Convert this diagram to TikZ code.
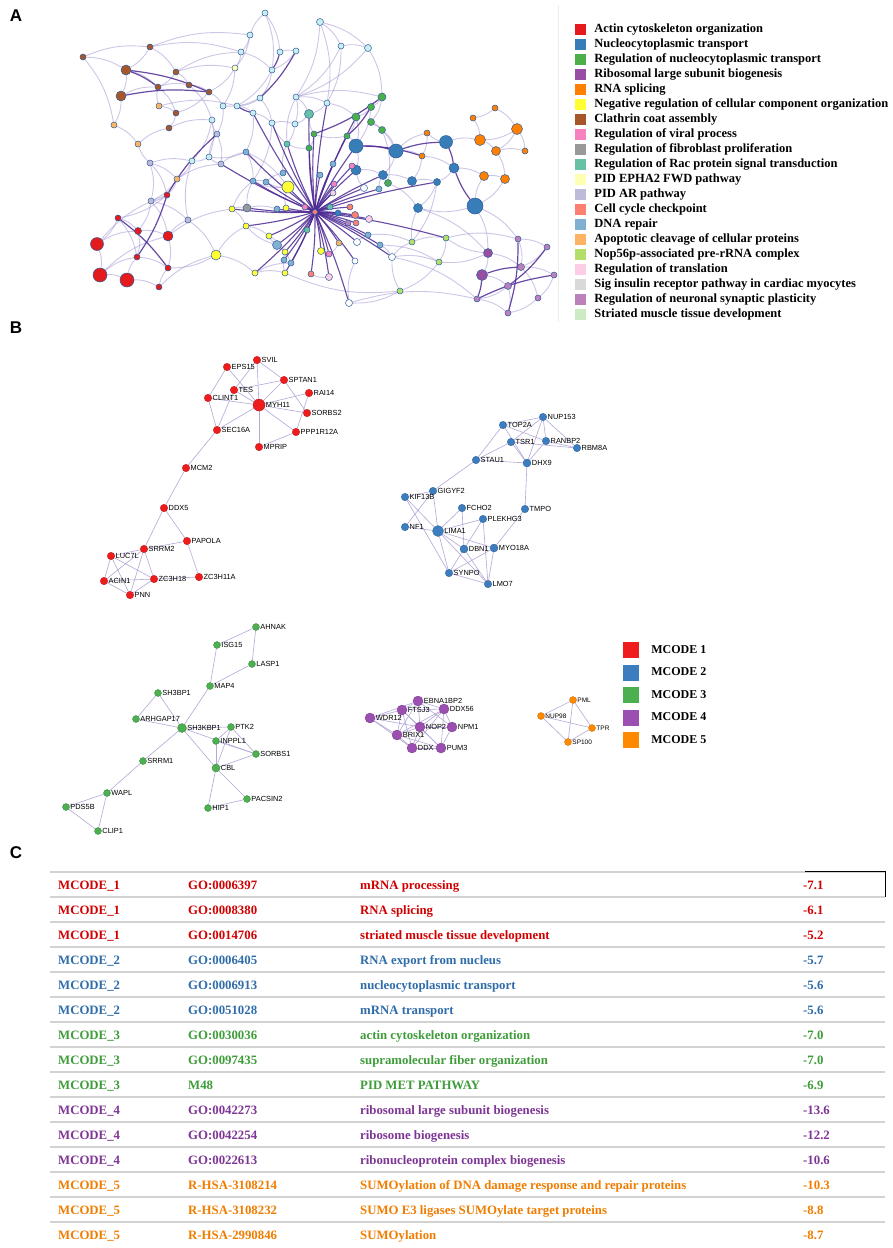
\documentclass[tikz,border=0pt]{standalone}
\usepackage{fontspec}
\setmainfont{Liberation Serif}
\setsansfont{Liberation Sans}
\usetikzlibrary{positioning}

\definecolor{cA}{HTML}{E41A1C}
\definecolor{cB}{HTML}{377EB8}
\definecolor{cC}{HTML}{4DAF4A}
\definecolor{cD}{HTML}{984EA3}
\definecolor{cE}{HTML}{FF7F00}
\definecolor{cF}{HTML}{FFFF33}
\definecolor{cG}{HTML}{A65628}
\definecolor{cH}{HTML}{F781BF}
\definecolor{cI}{HTML}{999999}
\definecolor{cJ}{HTML}{66C2A5}
\definecolor{cK}{HTML}{FFFFB3}
\definecolor{cL}{HTML}{BEBADA}
\definecolor{cM}{HTML}{FB8072}
\definecolor{cN}{HTML}{80B1D3}
\definecolor{cO}{HTML}{FDB462}
\definecolor{cP}{HTML}{B3DE69}
\definecolor{cQ}{HTML}{FCCDE5}
\definecolor{cR}{HTML}{D9D9D9}
\definecolor{cS}{HTML}{BC80BD}
\definecolor{cT}{HTML}{CCEBC5}
\definecolor{cW}{HTML}{C9EDF0}
\definecolor{rim}{HTML}{2E5C9A}
\definecolor{edgelav}{HTML}{9D8ECF}
\definecolor{edgedark}{HTML}{4E2A94}
\definecolor{ppiedge}{HTML}{B3A8D8}
\definecolor{mred}{HTML}{EE1C1C}
\definecolor{mblue}{HTML}{3C7DC0}
\definecolor{mgreen}{HTML}{4CAF50}
\definecolor{mpurple}{HTML}{9B4FB0}
\definecolor{morange}{HTML}{FF8A00}
\definecolor{tR}{HTML}{D10000}
\definecolor{tB}{HTML}{2F6DAA}
\definecolor{tG}{HTML}{3E9C3A}
\definecolor{tP}{HTML}{7E3595}
\definecolor{tO}{HTML}{F07D00}

\pgfdeclarelayer{bg}
\pgfdeclarelayer{edges}
\pgfsetlayers{bg,edges,main}

\tikzset{anode/.style =
   {circle,
    draw=rim,
    line width=0.5pt,
    inner sep=0pt,
    minimum size=6pt}}
\tikzset{lightedge/.style = {draw=edgelav, line width=0.9pt, opacity=0.5}}
\tikzset{darkedge/.style = {draw=edgedark, line width=1.2pt, opacity=0.85}}
\tikzset{legbox/.style =
   {rectangle,
    inner sep=0pt,
    minimum size=11pt}}
\tikzset{legtext/.style =
   {font=\bfseries\fontsize{12.5}{13}\selectfont,
    text height=8.5pt,
    text depth=2.5pt,
    inner sep=0pt}}
\tikzset{gnode/.style =
   {circle,
    fill=#1,
    draw=#1!75!black,
    line width=0.3pt,
    inner sep=0pt,
    minimum size=7.5pt}}
\tikzset{glabel/.style = {font=\sffamily\fontsize{7.4}{8}\selectfont, inner sep=0.6pt}}
\tikzset{ppi/.style = {draw=ppiedge, line width=0.6pt}}
\tikzset{mcodebox/.style =
   {rectangle,
    inner sep=0pt,
    minimum size=16pt}}
\tikzset{mcodetext/.style =
   {font=\bfseries\fontsize{12}{13}\selectfont,
    text height=8.5pt,
    text depth=2.5pt,
    inner sep=0pt}}
\tikzset{rowtext/.style =
   {font=\bfseries\fontsize{12.8}{13}\selectfont,
    anchor=base west,
    inner sep=0pt}}
\tikzset{panel/.style = {font=\sffamily\bfseries\fontsize{17}{18}\selectfont, inner sep=0pt}}

\begin{document}
\begin{tikzpicture}[x=1pt, y=-1pt]

    \begin{pgfonlayer}{bg}
    \fill [white] (0,0) rectangle (892,1248);
    \end{pgfonlayer}
    \useasboundingbox (0,0) rectangle (892,1248);

    \node [panel] (panelA) at (16,16) {A};
    \node [panel] (panelB) at (16,328) {B};
    \node [panel] (panelC) at (16,853) {C};

    % A: enrichment network
    \draw [gray!15, line width=0.8pt] (558,5) -- (558,322);

    \foreach \nm/\px/\py/\cl/\sz in
       {r1/167/195/cA/6, r2/118/218/cA/6, r3/138/231/cA/7, r4/168/236/cA/10,
        r5/97/244/cA/13, r6/137/257/cA/6, r7/168/268/cA/6, r8/100/275/cA/14,
        r9/127/280/cA/14, r10/159/287/cA/6,
        b1/83/57/cG/6, b2/150/47/cG/6, b3/126/70/cG/10, b4/121/96/cG/10,
        b5/176/72/cG/6, b6/158/87/cG/6, b7/189/85/cG/6, b8/209/92/cG/6,
        b9/176/113/cG/6, b10/169/128/cG/6,
        o1/114/125/cO/6, o2/138/144/cO/6, o3/159/106/cO/6, o4/177/179/cO/6,
        l1/150/163/cL/6, l2/151/201/cL/6, l3/188/220/cL/6, l4/221/164/cL/6, l5/217/134/cL/6,
        y1/288/187/cF/12, y2/216/255/cF/10, y3/232/209/cF/6, y4/246/226/cF/6,
        y5/269/236/cF/6, y6/286/208/cF/6, y7/255/273/cF/6, y8/285/273/cF/6,
        y9/285/252/cF/6, y10/321/251/cF/7,
        t1/265/13/cW/6, t2/320/22/cW/7, t3/250/35/cW/6, t4/341/46/cW/6,
        t5/368/48/cW/7, t6/241/52/cW/6, t7/235/68/cK/6, t8/280/52/cW/6,
        t9/296/51/cW/6, t10/272/70/cW/6, t11/260/98/cW/6, t12/296/97/cW/6,
        t13/327/103/cW/6, t14/309/114/cJ/9, t15/223/106/cW/6, t16/237/106/cW/6,
        t17/253/113/cW/6, t18/212/120/cW/6, t19/272/123/cW/6, t20/295/124/cW/6,
        t21/246/152/cN/6, t22/209/157/cW/6, t23/192/161/cW/6, t24/253/181/cN/6,
        t25/266/182/cN/6, t26/283/173/cN/6, t27/287/144/cJ/6,
        g1/382/97/cC/8, g2/371/107/cC/7, g3/356/117/cC/8, g4/371/122/cC/7,
        g5/382/130/cC/7, g6/347/136/cC/6, g7/314/134/cC/6, g8/309/148/cC/6, g9/388/183/cC/7,
        u1/356/146/cB/14, u2/396/151/cB/14, u3/356/170/cB/10, u4/383/175/cB/9,
        u5/412/181/cB/9, u6/437/182/cB/7, u7/418/208/cB/9, u8/446/142/cB/13,
        u9/454/168/cB/10, u10/475/206/cB/16, u11/277/245/cN/9,
        o5/427/133/cE/6, o6/422/156/cE/6, o7/495/108/cE/6, o8/473/118/cE/6,
        o9/517/129/cE/11, o10/480/140/cE/11, o11/496/151/cE/9, o12/525/151/cE/6,
        o13/484/176/cE/9, o14/505/179/cE/9,
        p1/518/239/cS/6, p2/547/247/cS/6, p3/488/253/cD/9, p4/521/267/cS/7,
        p5/482/275/cD/11, p6/554/275/cS/6, p7/508/286/cS/7, p8/477/299/cS/6,
        p9/538/298/cS/6, p10/508/313/cS/6,
        lg1/446/238/cP/6, lg2/439/262/cP/6, lg3/400/291/cP/6, lg4/412/242/cP/6,
        m1/305/207/cH/6, m2/333/193/cQ/6, m3/334/184/cH/6, m4/355/215/cM/7,
        m5/350/207/cM/6, m6/320/175/cN/6, m7/333/164/cN/6, m8/352/166/cH/6,
        m9/364/188/white/7, m10/379/189/cN/6, m11/369/219/cQ/7, m12/348/223/cS/6,
        m13/356/223/cM/6, m14/338/213/cB/6, m15/330/207/cJ/6, m16/277/209/cN/6,
        m17/247/208/cI/8, m18/307/230/cJ/6, m19/357/242/white/7, m20/368/235/cN/6,
        m21/380/245/cN/6, m22/392/257/white/7, m23/355/261/white/6, m24/329/277/cQ/7,
        m25/311/274/cM/6, m26/291/263/cN/6, m27/284/260/cN/6, m28/339/243/cO/6,
        m29/329/254/cH/6, m30/349/303/white/7, h/315/212/cM/5}
        \node [anode, fill=\cl, minimum size=\sz pt] (\nm) at (\px,\py) {};

    \begin{pgfonlayer}{edges}
    \foreach \a/\b in
       {b1/b2, b1/b3, b2/b3, b2/b5, b3/b4, b3/b6, b4/b6, b4/o1, b5/b6, b5/b7,
        b6/b7, b7/b8, b6/b9, b9/b10, b8/t15, b8/b9, o1/o2, o2/b10, o3/b6, o3/t16,
        b5/t6, b7/t18, b2/t6, t6/t7, t7/b8, t3/t1, t1/t8, t8/t9, t1/t10, t3/t6,
        t2/t4, t2/t5, t4/t5, t2/t13, t4/t13, t9/t10, t10/t11, t11/t15, t11/t16,
        t16/t17, t17/t19, t19/t20, t12/t20, t12/t14, t13/t14, t14/t20, t18/t22,
        t22/t23, t23/o4, t21/t22, t21/t24, t24/t25, t25/t26, t26/t27, t27/t19,
        l5/t18, l5/l4, l4/t22, l1/o2, l1/t23, l1/r1, r1/l2, r1/r2, r2/r3, r3/r4,
        r2/r5, r5/r8, r8/r9, r9/r10, r6/r7, r3/r6, r4/r7, r5/r3, r8/r6, r9/r6,
        r2/r6, r4/l3, l3/y2, y2/y4, y2/y7, o4/r1, o4/l4, l3/t23, y3/y4, y4/y5,
        y5/y9, y7/y8, y8/y9, y3/m17, m17/m16, u11/y5, g1/g2, g2/g3, g1/g4, g4/g5,
        g3/g6, g6/g7, g7/g8, u1/u3, u2/u4, u4/u5, u5/u6, u6/u7, u2/o5,
        o5/o6, o6/u5, u8/o5, u8/o10, u9/o13, u9/u6, o7/o8, o8/o10, o9/o10,
        o9/o11, o10/o11, o11/o12, o11/o14, o13/o14, o9/o12, o7/o9, u10/u7,
        u10/o13, u10/p3, u10/p1, p1/p2, p1/p4, p3/p4, p2/p4, p4/p6, p3/p5, p5/p7,
        p7/p8, p7/p10, p8/p10, p9/p10, p4/p9, p6/p9, p3/lg1, lg1/lg2, lg2/lg3,
        lg3/m30, m22/lg2, m21/m22, m19/m20, m30/m23, m24/m25, m26/m27, y10/m29,
        m28/m29, lg4/lg1, lg4/u7, t5/t12, t12/g1, m10/u4, m9/u3, g9/u4, g9/u7,
        y1/t24, y1/t25, l2/l3, l2/r4, r10/r7, t21/y1, t27/t12, g7/t14, u3/u4,
        u6/lg4, m22/p8, lg3/m22, y6/y1, u2/o6, g5/u2, o6/u9, r5/r1, r8/r4,
        b1/o1, t3/t7, t15/l5, y2/r7, m30/p8, lg3/y8, t5/g1, g2/u1,
        b2/t3, b5/t7, t6/t10, t7/t15, t10/t16, t11/t19, t12/t13, t20/t27,
        t19/t24, t17/t21, t18/t23, l4/t21, l1/l2, l2/r3, o4/l2, y3/t24, r10/y2,
        m17/t24, u11/y4, y7/m26, g8/t27, g6/u1, g3/u1, g4/u2, g5/g9, lg1/p1,
        p3/lg2, m22/lg4, t4/t12, t2/t12, t13/g3, m20/lg4, u11/m26, r4/y3,
        o3/b9, b10/t18, l1/o4, t22/l5, y9/m27, m21/lg2, u7/p3, o14/u10}
        \draw [lightedge] (\a) to [bend left=14] (\b);
    \foreach \a/\b in
       {r1/r6, r2/r7, r1/l5, b3/b8, b3/b6, t9/t11, t8/t10, g1/g7, g2/g6,
        u1/o6, u10/u9, p5/p4, p1/p10, p8/p6, p2/p7, u2/u8, u1/u2, t17/t16,
        b4/b8, u8/u9, p5/p8}
        \draw [darkedge] (\a) to [bend left=8] (\b);
    \foreach \b in
       {t14, t19, t27, t21, t25, t24, y1, y3, y4, y5, y6, y9, y10, m16, m17,
        u11, m18, m24, m25, m26, m27, m28, m29, m30, m12, m13, m4, m5, m11,
        m19, m20, m21, m22, m23, u3, u1, g6, g7, g8, g3, m9, m10, u4, lg1,
        t13, m6, m7, m8, y7, y8, l4, m1, m2, m3, m14, m15, t17, u6}
        \draw [darkedge, line width=1.1pt] (h) to [bend left=4] (\b);
    \end{pgfonlayer}

    \foreach \cl/\txt [count=\i from 0] in
       {cA/Actin cytoskeleton organization,
        cB/Nucleocytoplasmic transport,
        cC/Regulation of nucleocytoplasmic transport,
        cD/Ribosomal large subunit biogenesis,
        cE/RNA splicing,
        cF/Negative regulation of cellular component organization,
        cG/Clathrin coat assembly,
        cH/Regulation of viral process,
        cI/Regulation of fibroblast proliferation,
        cJ/Regulation of Rac protein signal transduction,
        cK/PID EPHA2 FWD pathway,
        cL/PID AR pathway,
        cM/Cell cycle checkpoint,
        cN/DNA repair,
        cO/Apoptotic cleavage of cellular proteins,
        cP/Nop56p-associated pre-rRNA complex,
        cQ/Regulation of translation,
        cR/Sig insulin receptor pathway in cardiac myocytes,
        cS/Regulation of neuronal synaptic plasticity,
        cT/Striated muscle tissue development}
       {
        \node [legbox, fill=\cl] (lsq\i) at (580.5,{29+15*\i}) {};
        \node [legtext, right=8pt of lsq\i] (ltx\i) {\txt};
       }

    % B: MCODE components
    \foreach \nm/\px/\py/\sz in
       {SVIL/257/360/7.5, EPS15/227/367/7.5, SPTAN1/284/380/7.5, TES/234/390/7.5,
        RAI14/309/393/7.5, CLINT1/208/398/7.5, MYH11/259/405/12, SORBS2/307/413/7.5,
        SEC16A/217/430/7.5, PPP1R12A/296/432/7.5, MPRIP/259/447/7.5, MCM2/186/468/7.5,
        DDX5/164/508/7.5, PAPOLA/187/541/7.5, SRRM2/144/549/7.5, LUC7L/111/556/7.5,
        ACIN1/104/581/7.5, ZC3H18/154/579/7.5, ZC3H11A/199/577/7.5, PNN/130/595/7.5}
        \node [gnode=mred, minimum size=\sz pt, label={[glabel]east:\nm}] (\nm) at (\px,\py) {};

    \foreach \nm/\px/\py/\sz in
       {NUP153/543/417/7.5, TOP2A/503/425/7.5, TSR1/511/442/7.5, RANBP2/546/441/7.5,
        RBM8A/577/448/7.5, STAU1/476/460/7.5, DHX9/527/463/8, GIGYF2/433/491/7.5,
        KIF13B/405/497/7.5, FCHO2/462/508/7.5, TMPO/525/509/7.5, PLEKHG3/483/519/7.5,
        NF1/405/527/7.5, LIMA1/438/531/11, DBN1/464/549/8, MYO18A/494/548/8,
        SYNPO/449/573/7.5, LMO7/488/584/7.5}
        \node [gnode=mblue, minimum size=\sz pt, label={[glabel]east:\nm}] (\nm) at (\px,\py) {};

    \foreach \nm/\px/\py/\sz in
       {AHNAK/256/627/7, ISG15/217/645/7, LASP1/252/664/7, MAP4/210/686/7,
        SH3BP1/158/693/7, ARHGAP17/136/719/7, SH3KBP1/182/728/9, PTK2/231/727/7,
        INPPL1/216/741/7, SORBS1/256/754/7, SRRM1/143/761/7, CBL/216/768/8,
        WAPL/107/793/7, PACSIN2/247/799/7, PDS5B/66/807/7, HIP1/208/808/7,
        CLIP1/98/831/7}
        \node [gnode=mgreen, minimum size=\sz pt, label={[glabel]east:\nm}] (\nm) at (\px,\py) {};

    \foreach \nm/\px/\py in
       {WDR12/370/718, FTSJ3/402/710, EBNA1BP2/418/701, DDX56/444/709,
        NOP2/420/727, NPM1/452/727, BRIX1/397/735, DDX/412/748, PUM3/441/748}
        \node [gnode=mpurple, minimum size=10pt, label={[glabel]east:\nm}] (\nm) at (\px,\py) {};

    \foreach \nm/\px/\py in
       {PML/573/700, NUP98/541/716, TPR/592/728, SP100/568/742}
        \node [gnode=morange, minimum size=7pt, label={[glabel, font=\sffamily\fontsize{6.5}{7}\selectfont]east:\nm}] (\nm) at (\px,\py) {};

    \begin{pgfonlayer}{edges}
    \foreach \a/\b in
       {SVIL/MYH11, SVIL/SPTAN1, SVIL/TES, EPS15/MYH11, EPS15/CLINT1, TES/SPTAN1,
        TES/MYH11, TES/SEC16A, CLINT1/MYH11, CLINT1/SEC16A, SPTAN1/MYH11,
        SPTAN1/SORBS2, RAI14/MYH11, RAI14/PPP1R12A, SORBS2/MYH11, MYH11/PPP1R12A,
        MYH11/MPRIP, MYH11/SEC16A, MPRIP/PPP1R12A, SEC16A/MCM2, MCM2/DDX5,
        DDX5/SRRM2, DDX5/PAPOLA, PAPOLA/SRRM2, PAPOLA/ZC3H11A, ZC3H18/ZC3H11A,
        SRRM2/LUC7L, SRRM2/ZC3H18, SRRM2/PNN, SRRM2/ACIN1, LUC7L/ACIN1,
        LUC7L/ZC3H18, LUC7L/PNN, ACIN1/ZC3H18, ACIN1/PNN, PNN/ZC3H18,
        NUP153/TOP2A, NUP153/TSR1, NUP153/RANBP2, NUP153/RBM8A, NUP153/DHX9,
        TOP2A/STAU1, TOP2A/RANBP2, TOP2A/DHX9, TSR1/STAU1, TSR1/RBM8A, TSR1/DHX9,
        RANBP2/DHX9, RANBP2/RBM8A, STAU1/DHX9, STAU1/GIGYF2, DHX9/TMPO,
        TMPO/MYO18A, GIGYF2/KIF13B, GIGYF2/LIMA1, KIF13B/LIMA1, KIF13B/SYNPO,
        NF1/LIMA1, NF1/GIGYF2, FCHO2/LIMA1, FCHO2/DBN1, PLEKHG3/LIMA1,
        PLEKHG3/DBN1, PLEKHG3/LMO7, LIMA1/DBN1, LIMA1/MYO18A, LIMA1/SYNPO,
        LIMA1/LMO7, DBN1/SYNPO, DBN1/LMO7, MYO18A/SYNPO, MYO18A/LMO7, SYNPO/LMO7,
        AHNAK/ISG15, AHNAK/LASP1, ISG15/MAP4, LASP1/MAP4, MAP4/SH3KBP1,
        SH3BP1/ARHGAP17, SH3BP1/SH3KBP1, ARHGAP17/SH3KBP1, SH3KBP1/PTK2,
        SH3KBP1/SORBS1, SH3KBP1/CBL, SH3KBP1/SRRM1, PTK2/INPPL1, PTK2/SORBS1,
        PTK2/CBL, INPPL1/CBL, INPPL1/SORBS1, SORBS1/CBL, CBL/HIP1, CBL/PACSIN2,
        HIP1/PACSIN2, SRRM1/WAPL, WAPL/PDS5B, WAPL/CLIP1, PDS5B/CLIP1,
        WDR12/FTSJ3, WDR12/EBNA1BP2, WDR12/NOP2, WDR12/BRIX1, WDR12/DDX,
        FTSJ3/EBNA1BP2, FTSJ3/DDX56, FTSJ3/NOP2, FTSJ3/BRIX1, FTSJ3/DDX,
        FTSJ3/PUM3, EBNA1BP2/DDX56, EBNA1BP2/NOP2, EBNA1BP2/NPM1, EBNA1BP2/BRIX1,
        DDX56/NOP2, DDX56/NPM1, DDX56/PUM3, DDX56/BRIX1, NOP2/NPM1, NOP2/BRIX1,
        NOP2/DDX, NOP2/PUM3, BRIX1/DDX, BRIX1/PUM3, DDX/PUM3, NPM1/PUM3,
        DDX56/DDX, PML/NUP98, PML/TPR, PML/SP100, NUP98/TPR, NUP98/SP100, TPR/SP100}
        \draw [ppi] (\a) -- (\b);
    \end{pgfonlayer}

    \foreach \cl [count=\i] in {mred, mblue, mgreen, mpurple, morange}
       {
        \node [mcodebox, fill=\cl] (msq\i) at (631,{650+22.6*(\i-1)}) {};
        \node [mcodetext, right=12pt of msq\i] (mtx\i) {MCODE \i};
       }

    % C: enrichment table
    \foreach \i in {0,...,14}
        \draw [gray!35, line width=1.3pt] (50,{872+25*\i}) -- (885,{872+25*\i});
    \draw [black, line width=1pt] (805,871) -- (885,871) -- (885,897);

    \foreach \mc/\go/\ds/\val/\cl [count=\i from 0] in
       {1/GO:0006397/mRNA processing/-7.1/tR,
        1/GO:0008380/RNA splicing/-6.1/tR,
        1/GO:0014706/striated muscle tissue development/-5.2/tR,
        2/GO:0006405/RNA export from nucleus/-5.7/tB,
        2/GO:0006913/nucleocytoplasmic transport/-5.6/tB,
        2/GO:0051028/mRNA transport/-5.6/tB,
        3/GO:0030036/actin cytoskeleton organization/-7.0/tG,
        3/GO:0097435/supramolecular fiber organization/-7.0/tG,
        3/M48/PID MET PATHWAY/-6.9/tG,
        4/GO:0042273/ribosomal large subunit biogenesis/-13.6/tP,
        4/GO:0042254/ribosome biogenesis/-12.2/tP,
        4/GO:0022613/ribonucleoprotein complex biogenesis/-10.6/tP,
        5/R-HSA-3108214/SUMOylation of DNA damage response and repair proteins/-10.3/tO,
        5/R-HSA-3108232/SUMO E3 ligases SUMOylate target proteins/-8.8/tO,
        5/R-HSA-2990846/SUMOylation/-8.7/tO}
       {
        \node [rowtext, text=\cl] (mc\i) at (58,{889+25*\i}) {MCODE\_\mc};
        \node [rowtext, text=\cl] (go\i) at (188,{889+25*\i}) {\go};
        \node [rowtext, text=\cl] (ds\i) at (360,{889+25*\i}) {\ds};
        \node [rowtext, text=\cl] (val\i) at (803,{889+25*\i}) {\val};
       }

\end{tikzpicture}
\end{document}
